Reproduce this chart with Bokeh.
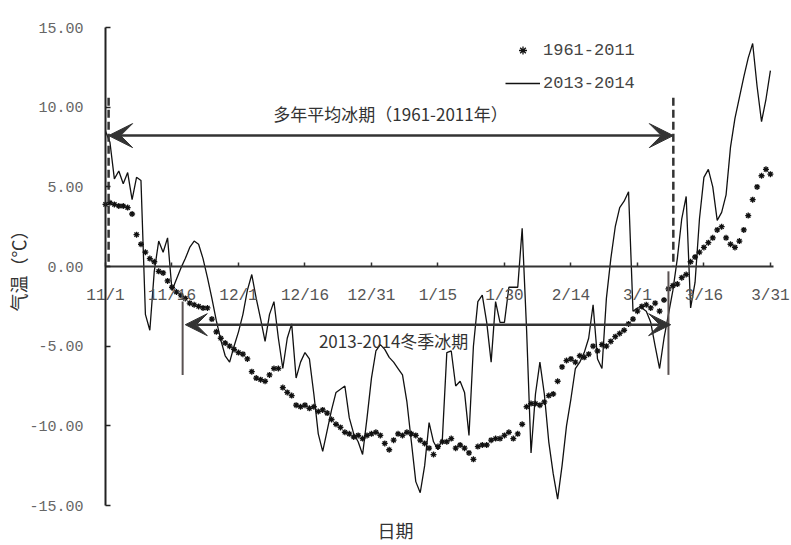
from bokeh.plotting import figure
from bokeh.models import (Arrow, VeeHead, Label, Legend, LegendItem, FixedTicker,
                          NumeralTickFormatter, LinearAxis)
from bokeh.embed import file_html
from bokeh.resources import INLINE

# Day index 0 = 11/1 (2013), 150 = 3/31 (2014)
tick_days = [0, 15, 30, 45, 60, 75, 90, 105, 120, 135, 150]
tick_labels = ["11/1", "11/16", "12/1", "12/16", "12/31", "1/15",
               "1/30", "2/14", "3/1", "3/16", "3/31"]
y_ticks = [-15, -10, -5, 0, 5, 10, 15]

# Daily mean air temperature, multi-year average 1961-2011 (°C)
mean_1961_2011 = [
    3.9, 4.0, 3.9, 3.8, 3.8, 3.7, 3.3, 2.0, 1.4, 0.9,
    0.5, 0.3, -0.3, -0.4, -0.9, -1.3, -1.6, -1.8, -2.0, -2.3,
    -2.4, -2.5, -2.6, -2.6, -3.3, -4.1, -4.5, -4.8, -5.0, -5.2,
    -5.4, -5.5, -5.8, -6.6, -7.0, -7.1, -7.2, -6.8, -6.4, -6.4,
    -7.6, -7.9, -8.1, -8.7, -8.8, -8.7, -8.9, -8.8, -9.1, -9.0,
    -9.2, -9.6, -9.9, -10.1, -10.4, -10.5, -10.7, -10.6, -10.8, -10.6,
    -10.5, -10.4, -10.6, -11.1, -11.5, -10.9, -10.5, -10.6, -10.4, -10.5,
    -10.6, -10.9, -11.1, -11.4, -11.8, -11.3, -11.0, -11.0, -10.8, -11.4,
    -11.2, -11.4, -11.7, -12.1, -11.3, -11.2, -11.2, -10.9, -10.8, -10.8,
    -10.6, -10.4, -10.8, -10.5, -9.9, -8.8, -8.6, -8.6, -8.7, -8.5,
    -8.1, -8.0, -7.2, -6.3, -5.9, -5.8, -6.0, -5.6, -5.7, -5.5,
    -5.0, -5.3, -4.9, -5.0, -4.7, -4.4, -4.2, -4.0, -3.6, -3.3,
    -2.8, -2.5, -2.4, -2.6, -2.3, -2.8, -2.1, -1.4, -1.2, -1.1,
    -0.7, -0.5, 0.3, 0.6, 0.9, 1.2, 1.5, 1.8, 2.3, 2.5,
    1.8, 1.4, 1.2, 1.6, 2.3, 3.2, 4.2, 5.0, 5.7, 6.1, 5.8,
]

# Daily mean air temperature, winter 2013-2014 (°C)
daily_2013_2014 = [
    8.5, 7.8, 5.5, 6.0, 5.2, 5.9, 4.2, 5.6, 5.4, -3.0,
    -4.0, -0.3, 1.6, 0.9, 1.8, -1.5, -0.8, -0.1, 0.5, 1.2,
    1.6, 1.4, 0.5, -0.7, -2.0, -3.4, -4.6, -5.6, -6.0, -5.0,
    -4.1, -3.0, -1.5, -0.5, -2.0, -3.3, -4.7, -3.0, -2.2, -4.5,
    -6.4, -4.5, -3.6, -7.0, -6.0, -5.4, -5.8, -8.0, -10.5, -11.6,
    -10.3, -9.0, -7.9, -7.7, -7.5, -9.5, -10.5, -11.0, -11.8, -9.5,
    -7.0, -5.3, -4.9, -5.2, -5.7, -6.0, -6.4, -6.8, -8.5, -11.0,
    -13.5, -14.2, -12.5, -9.8, -11.0, -11.5, -10.8, -5.4, -5.3, -7.5,
    -7.2, -7.9, -10.6, -5.0, -2.2, -1.8, -3.5, -6.0, -2.2, -3.5,
    -3.5, -1.3, -1.3, -1.3, 2.4, -4.0, -11.7, -8.0, -6.0, -8.0,
    -11.0, -13.0, -14.6, -12.5, -10.0, -8.3, -6.4, -6.0, -5.4, -4.5,
    -2.4, -5.8, -6.4, -2.0, 0.5, 2.5, 3.7, 4.1, 4.7, -2.8,
    -2.6, -2.6, -2.8, -3.5, -5.0, -6.4, -4.5, -3.0, -1.5, 0.5,
    3.0, 4.4, -2.6, -1.0, 3.0, 5.6, 6.1, 5.0, 2.9, 3.4,
    4.5, 7.5, 9.3, 10.6, 11.9, 13.1, 14.0, 11.3, 9.1, 10.5, 12.3,
]

days = list(range(len(daily_2013_2014)))

# Ice periods (day index of start and end)
mean_ice_period = (0.7, 128.1)
winter_ice_period = (18.0, 127.5)

INK = "#333333"
MONO = "Liberation Mono"
CJK = "Noto Sans CJK SC"

# The frame fills the whole canvas; both axes are pinned inside it so that
# their labels have room without side panels.
p = figure(width=791, height=545, x_range=(-23.69, 154.76),
           y_range=(-17.51, 16.70), output_backend="svg",
           toolbar_location=None, x_axis_type=None, y_axis_type=None,
           min_border=0, background_fill_color="white",
           border_fill_color="white")
p.outline_line_color = None

# y axis at day 0
yax = LinearAxis(fixed_location=0, bounds=(-15, 15),
                 ticker=FixedTicker(ticks=y_ticks),
                 formatter=NumeralTickFormatter(format="0.00"))
yax.axis_line_color = "#222222"
yax.axis_line_width = 2
yax.major_tick_in = 5
yax.major_tick_out = 0
yax.major_tick_line_color = "#222222"
yax.major_tick_line_width = 1.5
yax.minor_tick_line_color = None
yax.major_label_standoff = 22
yax.major_label_text_font = MONO
yax.major_label_text_font_size = "15px"
yax.major_label_text_color = "#666666"
yax.axis_label = "气温（℃）"
yax.axis_label_text_font = CJK
yax.axis_label_text_font_size = "18px"
yax.axis_label_text_font_style = "normal"
yax.axis_label_text_color = INK
yax.axis_label_standoff = -5
p.add_layout(yax, "left")

# x axis along the 0 °C line
xax = LinearAxis(fixed_location=0, bounds=(0, 150.7),
                 ticker=FixedTicker(ticks=tick_days),
                 major_label_overrides=dict(zip(tick_days, tick_labels)))
xax.axis_line_color = INK
xax.axis_line_width = 2
xax.major_tick_in = 4
xax.major_tick_out = 0
xax.major_tick_line_color = INK
xax.major_tick_line_width = 1.5
xax.minor_tick_line_color = None
xax.major_label_standoff = 20
xax.major_label_text_font = MONO
xax.major_label_text_font_size = "16px"
xax.major_label_text_color = "#555555"
p.add_layout(xax, "below")

# series
line_r = p.line(days, daily_2013_2014, line_color="#111111", line_width=1.3)
star_r = p.scatter(days, mean_1961_2011, marker="asterisk", size=6,
                   line_color="#111111", line_width=1.3)

# ice-period markers
p.segment(x0=[mean_ice_period[0], mean_ice_period[1]], y0=[10.6, 10.6],
          x1=[mean_ice_period[0], mean_ice_period[1]], y1=[0, 0],
          line_color=INK, line_width=2.5, line_dash="8 4")
p.segment(x0=[winter_ice_period[0] - 0.6, winter_ice_period[1] - 0.5], y0=[-2.2, -0.3],
          x1=[winter_ice_period[0] - 0.6, winter_ice_period[1] - 0.5], y1=[-6.8, -6.8],
          line_color="#5a5252", line_width=2)

p.add_layout(Arrow(start=VeeHead(size=24, fill_color=INK, line_color=INK),
                   end=VeeHead(size=24, fill_color=INK, line_color=INK),
                   x_start=mean_ice_period[0], y_start=8.22,
                   x_end=mean_ice_period[1], y_end=8.22,
                   line_color=INK, line_width=2.5))
p.add_layout(Arrow(start=VeeHead(size=22, fill_color=INK, line_color=INK),
                   end=VeeHead(size=22, fill_color=INK, line_color=INK),
                   x_start=winter_ice_period[0], y_start=-3.65,
                   x_end=winter_ice_period[1], y_end=-3.65,
                   line_color=INK, line_width=2.5))

p.add_layout(Label(x=64.3, y=9.6, text="多年平均冰期（1961-2011年）",
                   text_font=CJK, text_font_size="17px", text_color=INK,
                   text_align="center", text_baseline="middle"))
p.add_layout(Label(x=65.0, y=-4.65, text="2013-2014冬季冰期",
                   text_font=CJK, text_font_size="17px", text_color=INK,
                   text_align="center", text_baseline="middle"))
p.add_layout(Label(x=65.4, y=-16.55, text="日期",
                   text_font=CJK, text_font_size="18px", text_color=INK,
                   text_align="center", text_baseline="middle"))

legend = Legend(items=[LegendItem(label="1961-2011", renderers=[star_r]),
                       LegendItem(label="2013-2014", renderers=[line_r])],
                location=(505, 447), orientation="vertical",
                label_text_font=MONO, label_text_font_size="17px",
                label_text_color="#444444", glyph_width=35, glyph_height=20,
                label_height=30, spacing=3, padding=0, margin=0,
                label_standoff=3, border_line_color=None,
                background_fill_alpha=0)
p.add_layout(legend)

open("out.html", "w").write(file_html(p, INLINE))
